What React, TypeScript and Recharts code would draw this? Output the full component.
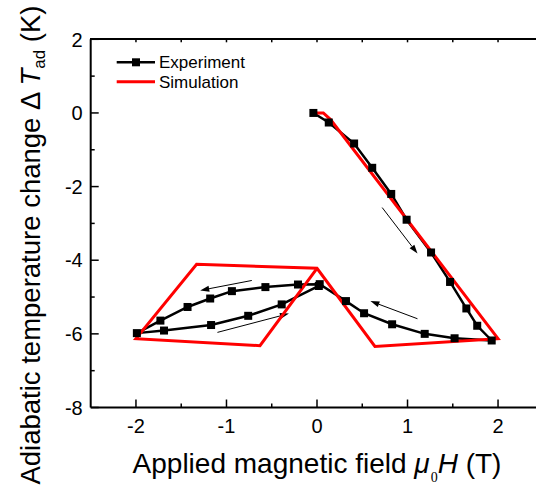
import { LineChart, Line, XAxis, YAxis, ReferenceLine } from 'recharts';

// Experiment: field up 0 -> 2 T, back to 0, down to -2 T, back to 0
const expField = [
  -0.04, 0.13, 0.41, 0.61, 0.82, 0.99, 1.26, 1.47, 1.65, 1.77, 1.93,
  1.52, 1.19, 0.83, 0.52, 0.32, 0.03,
  -0.21, -0.57, -0.94, -1.18, -1.43, -1.73, -1.99,
  -1.69, -1.17, -0.76, -0.39, 0.02,
];
const expDeltaT = [
  0.0, -0.26, -0.83, -1.49, -2.2, -2.9, -3.79, -4.59, -5.31, -5.78, -6.18,
  -6.12, -6.0, -5.74, -5.44, -5.11, -4.65,
  -4.66, -4.73, -4.84, -5.04, -5.27, -5.64, -5.98,
  -5.91, -5.76, -5.51, -5.2, -4.7,
];

const simField = [0, 0.07, 0.15, 2.0, 0.64, 0.0, -1.33, -2.0, -0.63, 0.0];
const simDeltaT = [0, 0, -0.18, -6.13, -6.34, -4.22, -4.11, -6.13, -6.32, -4.22];

// direction arrows (tail -> head), in axis units
const arrowFromX = [0.72, 1.11, -0.72, -1.1];
const arrowFromY = [-2.57, -5.59, -4.55, -5.96];
const arrowToX = [1.11, 0.59, -1.29, -0.31];
const arrowToY = [-3.82, -5.11, -4.82, -5.45];

const xDomain = [-2.5, 2.5];
const yDomain = [-8, 2];
const xTicks = [-2, -1.5, -1, -0.5, 0, 0.5, 1, 1.5, 2];
const yTicks = [-8, -7, -6, -5, -4, -3, -2, -1, 0, 1, 2];

const FONT = '"Liberation Sans", Arial, sans-serif';

const experiment = expField.map((x, i) => ({ x, y: expDeltaT[i] }));
const simulation = simField.map((x, i) => ({ x, y: simDeltaT[i] }));

function BottomTick({ x, y, payload }: any) {
  const major = Number.isInteger(payload.value);
  return (
    <g>
      <line x1={x} y1={y} x2={x} y2={y - (major ? 8 : 4)} stroke="#000" strokeWidth={1.5} />
      {major && (
        <text x={x} y={y + 25} textAnchor="middle" fontSize={20} fontFamily={FONT} fill="#000">
          {payload.value}
        </text>
      )}
    </g>
  );
}

function LeftTick({ x, y, payload }: any) {
  const major = payload.value % 2 === 0;
  return (
    <g>
      <line x1={x} y1={y} x2={x + (major ? 8 : 4)} y2={y} stroke="#000" strokeWidth={1.5} />
      {major && (
        <text x={x - 8} y={y} dy="0.36em" textAnchor="end" fontSize={20} fontFamily={FONT} fill="#000">
          {payload.value}
        </text>
      )}
    </g>
  );
}

// small tick marks hanging from the top frame
function TopTicks({ x1, y1, x2 }: any) {
  const span = xDomain[1] - xDomain[0];
  return (
    <g>
      {xTicks.map((t) => {
        const tx = x1 + ((t - xDomain[0]) / span) * (x2 - x1);
        return <line key={t} x1={tx} y1={y1} x2={tx} y2={y1 + 3} stroke="#000" strokeWidth={1.5} />;
      })}
    </g>
  );
}

function SquareDot({ cx, cy, index }: any) {
  return <rect key={`sq-${index}`} x={cx - 4} y={cy - 4} width={8} height={8} fill="#000" />;
}

function Arrow({ x1, y1, x2, y2 }: any) {
  const a = Math.atan2(y2 - y1, x2 - x1);
  const len = 9;
  const w = 3;
  const bx = x2 - len * Math.cos(a);
  const by = y2 - len * Math.sin(a);
  const p1 = `${bx - w * Math.sin(a)},${by + w * Math.cos(a)}`;
  const p2 = `${bx + w * Math.sin(a)},${by - w * Math.cos(a)}`;
  return (
    <g>
      <line x1={x1} y1={y1} x2={bx} y2={by} stroke="#000" strokeWidth={1} />
      <polygon points={`${x2},${y2} ${p1} ${p2}`} fill="#000" />
    </g>
  );
}

function XLabel() {
  return (
    <text x={317} y={473} textAnchor="middle" fontSize={28} fontFamily={FONT} fill="#000">
      Applied magnetic field{' '}
      <tspan fontStyle="italic">μ</tspan>
      <tspan fontSize={14} fontFamily='"Liberation Serif", "Times New Roman", serif' dy={9} dx={1}>0</tspan>
      <tspan fontStyle="italic" dy={-9}>H</tspan> (T)
    </text>
  );
}

function YLabel() {
  return (
    <text
      x={40}
      y={245}
      transform="rotate(-90 40 245)"
      textAnchor="middle"
      fontSize={27.5}
      fontFamily={FONT}
      fill="#000"
    >
      Adiabatic temperature change Δ <tspan fontStyle="italic">T</tspan>
      <tspan fontSize={17} dy={5}>ad</tspan>
      <tspan dy={-5}> (K)</tspan>
    </text>
  );
}

export default function App() {
  return (
    <div style={{ position: 'absolute', left: 0, top: 0, width: 536, height: 486, overflow: 'hidden', background: '#fff' }}>
      <LineChart width={560} height={486} margin={{ top: 39.3, right: 16.7, bottom: 0, left: 0 }}>
        <XAxis
          dataKey="x"
          type="number"
          domain={xDomain}
          ticks={xTicks}
          interval={0}
          height={78.5}
          tickSize={0}
          tickMargin={0}
          tickLine={false}
          axisLine={{ stroke: '#000', strokeWidth: 2 }}
          tick={BottomTick}
          label={{ content: XLabel }}
        />
        <YAxis
          dataKey="y"
          type="number"
          domain={yDomain}
          ticks={yTicks}
          interval={0}
          width={90.7}
          tickSize={0}
          tickMargin={0}
          tickLine={false}
          axisLine={{ stroke: '#000', strokeWidth: 2 }}
          tick={LeftTick}
          label={{ content: YLabel }}
        />
        <ReferenceLine
          segment={[
            { x: xDomain[0], y: yDomain[1] },
            { x: xDomain[1], y: yDomain[1] },
          ]}
          ifOverflow="visible"
          shape={TopTicks}
        />
        {arrowFromX.map((fx, i) => (
          <ReferenceLine
            key={`arrow-${i}`}
            segment={[
              { x: fx, y: arrowFromY[i] },
              { x: arrowToX[i], y: arrowToY[i] },
            ]}
            shape={Arrow}
          />
        ))}
        <Line
          data={experiment}
          dataKey="y"
          type="linear"
          stroke="#000"
          strokeWidth={2.5}
          dot={SquareDot}
          isAnimationActive={false}
        />
        <Line
          data={simulation}
          dataKey="y"
          type="linear"
          stroke="#ff0000"
          strokeWidth={3}
          strokeLinejoin="miter"
          dot={false}
          isAnimationActive={false}
        />
      </LineChart>
      {/* top frame of the plot box */}
      <div style={{ position: 'absolute', left: 90, top: 38.3, width: 460, height: 2, background: '#000' }} />
      {/* legend */}
      <svg style={{ position: 'absolute', left: 110, top: 50 }} width={160} height={44}>
        <line x1={6.7} y1={12.3} x2={45} y2={12.3} stroke="#000" strokeWidth={2.5} />
        <rect x={22} y={8.3} width={8} height={8} fill="#000" />
        <text x={49} y={12.3} dy="0.36em" fontSize={17} fontFamily={FONT} fill="#000">Experiment</text>
        <line x1={6.7} y1={31.7} x2={45} y2={31.7} stroke="#ff0000" strokeWidth={3} />
        <text x={49} y={31.7} dy="0.36em" fontSize={17} fontFamily={FONT} fill="#000">Simulation</text>
      </svg>
    </div>
  );
}
